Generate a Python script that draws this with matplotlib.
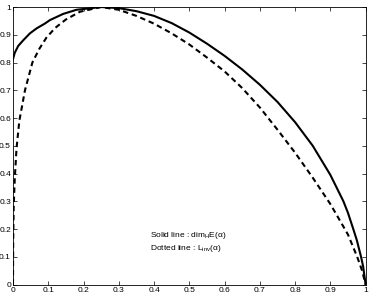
import matplotlib
matplotlib.use("Agg")
import matplotlib.pyplot as plt

plt.rcParams['font.family'] = ['Liberation Sans', 'DejaVu Sans']
plt.rcParams['mathtext.fontset'] = 'custom'
plt.rcParams['mathtext.rm'] = 'Liberation Sans'
plt.rcParams['mathtext.it'] = 'Liberation Sans'
plt.rcParams['mathtext.default'] = 'regular'

# solid curve: dim_H E(alpha)
alpha_solid = [0, 0.005, 0.015, 0.029, 0.048, 0.067, 0.09, 0.105, 0.142, 0.18,
               0.25, 0.30, 0.35, 0.40, 0.45, 0.50, 0.55, 0.60, 0.65, 0.70,
               0.75, 0.80, 0.85, 0.90, 0.937, 0.95, 0.965, 0.975, 0.987, 0.993, 1.0]
dim_solid = [0.812, 0.835, 0.86, 0.88, 0.905, 0.923, 0.94, 0.953, 0.975, 0.99,
             1.0, 0.996, 0.985, 0.968, 0.942, 0.908, 0.868, 0.824, 0.775, 0.72,
             0.658, 0.585, 0.5, 0.395, 0.3, 0.258, 0.2, 0.16, 0.1, 0.065, 0.0]

# dashed curve: L_inv(alpha)
alpha_dash = [0, 0.0005, 0.002, 0.005, 0.010, 0.018, 0.034, 0.055, 0.075, 0.095,
              0.12, 0.15, 0.19, 0.25, 0.30, 0.35, 0.40, 0.45, 0.50, 0.55,
              0.60, 0.65, 0.70, 0.75, 0.80, 0.85, 0.90, 0.95, 0.976, 0.99, 1.0]
l_inv = [0, 0.15, 0.28, 0.38, 0.49, 0.59, 0.70, 0.80, 0.85, 0.89,
         0.925, 0.955, 0.983, 1.0, 0.99, 0.968, 0.94, 0.905, 0.865, 0.818,
         0.768, 0.708, 0.638, 0.558, 0.475, 0.385, 0.29, 0.18, 0.1, 0.05, 0.0]

xticks = [0, 0.1, 0.2, 0.3, 0.4, 0.5, 0.6, 0.7, 0.8, 0.9, 1]
yticks = [0, 0.1, 0.2, 0.3, 0.4, 0.5, 0.6, 0.7, 0.8, 0.9, 1]
ticklabels = ["0", "0.1", "0.2", "0.3", "0.4", "0.5", "0.6", "0.7", "0.8", "0.9", "1"]

fig = plt.figure(figsize=(3.71, 2.97), dpi=100)
ax = fig.add_axes([0.035, 0.042, 0.9505, 0.9344])

ax.plot(alpha_solid, dim_solid, color='black', lw=1.5)
ax.plot(alpha_dash, l_inv, color='black', lw=1.5, linestyle=(0, (2.6, 1.8)))

ax.set_xlim(0, 1)
ax.set_ylim(0, 1)
ax.set_xticks(xticks)
ax.set_yticks(yticks)
ax.set_xticklabels(ticklabels)
ax.set_yticklabels(ticklabels)
ax.tick_params(direction='in', length=3, width=0.5, labelsize=6, pad=1.5,
               top=True, right=True)
for s in ax.spines.values():
    s.set_linewidth(0.6)

ax.text(0.388, 0.175, "Solid line : dim$_H$E(α)", fontsize=6, va='center')
ax.text(0.388, 0.1315, "Dotted line : L$_{inv}$(α)", fontsize=6, va='center')

fig.savefig("out.png", dpi=100)
